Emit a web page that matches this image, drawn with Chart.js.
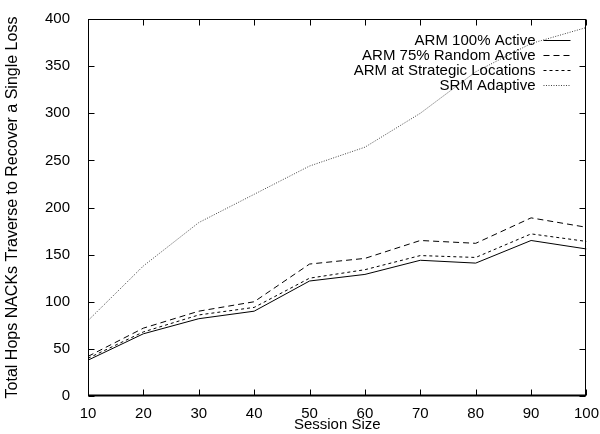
<!DOCTYPE html>
<html>
<head>
<meta charset="utf-8">
<script src="https://cdn.jsdelivr.net/npm/chart.js@4/dist/chart.umd.min.js"></script>
<style>
  html, body { margin: 0; padding: 0; background: #fff; }
</style>
</head>
<body>
<canvas id="chart" width="600" height="434"></canvas>
<script>
// session sizes on the x axis
const sessionSizes = [10, 20, 30, 40, 50, 60, 70, 80, 90, 100];

// total hops per series
const arm100Active = [38, 66, 82, 90, 122, 129, 144, 141, 165, 156];
const arm75Random = [42, 72, 90, 100, 140, 146, 165, 162, 189, 179];
const armStrategic = [40, 68, 86, 94, 125, 134, 149, 147, 172, 164];
const srmAdaptive = [80, 138, 184, 214, 244, 264, 300, 344, 374, 391];

const seriesLabels = ['ARM 100% Active', 'ARM 75% Random Active', 'ARM at Strategic Locations', 'SRM Adaptive'];
const xTicks = [10, 20, 30, 40, 50, 60, 70, 80, 90, 100];
const yTicks = [0, 50, 100, 150, 200, 250, 300, 350, 400];

const FONT = "'Liberation Sans', Arial, Helvetica, sans-serif";
Chart.defaults.font.family = FONT;
Chart.defaults.font.size = 15;
Chart.defaults.color = '#000';

function toPoints(values) {
  return sessionSizes.map((s, i) => ({ x: s, y: values[i] }));
}

const styles = [
  { color: '#000', dash: [] },
  { color: '#000', dash: [6, 4] },
  { color: '#000', dash: [3, 3] },
  { color: '#444', dash: [1, 1.5] }
];

// gnuplot style frame: box, inward ticks on all sides, key at top right
const framePlugin = {
  id: 'frame',
  afterDatasetsDraw(chart) {
    const { ctx, chartArea: a, scales } = chart;
    const L = Math.round(a.left) + 0.5, R = Math.round(a.right) - 0.5;
    const T = Math.round(a.top) + 0.5, B = Math.round(a.bottom) - 0.5;
    ctx.save();
    ctx.strokeStyle = '#000';
    ctx.lineWidth = 1;
    ctx.setLineDash([]);
    ctx.beginPath();
    xTicks.forEach(v => {
      const px = Math.round(scales.x.getPixelForValue(v)) + 0.5;
      ctx.moveTo(px, B); ctx.lineTo(px, B - 6);
      ctx.moveTo(px, T); ctx.lineTo(px, T + 6);
    });
    yTicks.forEach(v => {
      const py = Math.round(scales.y.getPixelForValue(v)) + 0.5;
      ctx.moveTo(L, py); ctx.lineTo(L + 6, py);
      ctx.moveTo(R, py); ctx.lineTo(R - 6, py);
    });
    ctx.stroke();
    ctx.strokeRect(L, T, R - L, B - T);
    ctx.lineWidth = 2;
    ctx.beginPath();
    ctx.moveTo(L, B); ctx.lineTo(R, B);
    ctx.stroke();

    // key
    ctx.font = '15px ' + FONT;
    ctx.textAlign = 'right';
    ctx.textBaseline = 'middle';
    chart.data.datasets.forEach((ds, i) => {
      const y = Math.round(a.top + 21 + i * 15) + 0.5;
      ctx.fillStyle = '#000';
      ctx.fillText(ds.label, a.right - 51, y);
      ctx.strokeStyle = ds.borderColor;
      ctx.lineWidth = 1;
      ctx.setLineDash(ds.borderDash);
      ctx.beginPath();
      ctx.moveTo(a.right - 43, y);
      ctx.lineTo(a.right - 16, y);
      ctx.stroke();
    });
    ctx.restore();
  }
};

const datasets = [arm100Active, arm75Random, armStrategic, srmAdaptive].map((vals, i) => ({
  label: seriesLabels[i],
  data: toPoints(vals),
  borderColor: styles[i].color,
  borderDash: styles[i].dash,
  borderWidth: 1,
  pointRadius: 0,
  fill: false,
  tension: 0
}));

new Chart(document.getElementById('chart'), {
  type: 'line',
  data: { datasets },
  options: {
    responsive: false,
    animation: false,
    devicePixelRatio: 1,
    layout: { padding: { top: 11, right: 11, left: 0, bottom: 0 } },
    plugins: { legend: { display: false }, tooltip: { enabled: false } },
    scales: {
      x: {
        type: 'linear',
        min: 10,
        max: 100,
        grid: { display: false },
        border: { display: false },
        afterBuildTicks: s => { s.ticks = xTicks.map(v => ({ value: v })); },
        ticks: { padding: 1, maxRotation: 0, autoSkip: false },
        title: { display: true, text: 'Session Size', padding: { top: 0, bottom: 0 } },
        afterFit: s => { s.height = 38; }
      },
      y: {
        type: 'linear',
        min: 0,
        max: 400,
        grid: { display: false },
        border: { display: false },
        afterBuildTicks: s => { s.ticks = yTicks.map(v => ({ value: v })); },
        ticks: { padding: 10 },
        title: { display: true, text: 'Total Hops NACKs Traverse to Recover a Single Loss', font: { size: 16 }, padding: { top: 3, bottom: 4 } },
        afterFit: s => { s.width = 88; }
      }
    }
  },
  plugins: [framePlugin]
});
</script>
</body>
</html>
